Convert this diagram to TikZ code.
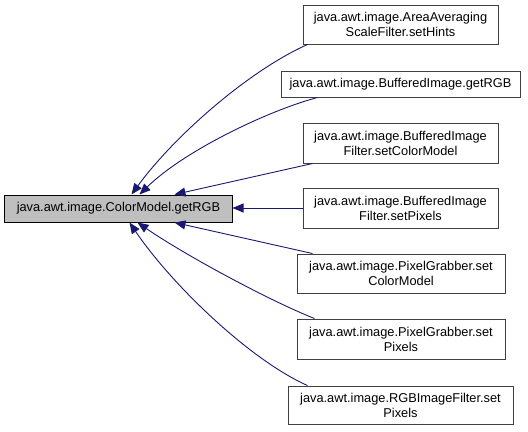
\documentclass[tikz,border=0pt]{standalone}
\usepackage{fontspec}
\setmainfont{Liberation Sans}
\usetikzlibrary{arrows.meta}
\definecolor{edgeblue}{HTML}{191970}
\definecolor{boxgray}{HTML}{BFBFBF}
\definecolor{boxline}{HTML}{404040}
\begin{document}
\begin{tikzpicture}[x=1bp,y=-1bp,
  box/.style={draw=boxline,line width=1bp,fill=white,inner sep=0pt,align=center,
    font=\fontsize{12.8bp}{15bp}\selectfont},
  edge/.style={draw=edgeblue,line width=0.9bp,-{Triangle[length=11bp,width=9bp]}}]
\useasboundingbox (0,0) rectangle (528,431);
\node[box,fill=boxgray,draw=black,minimum width=227bp,minimum height=27bp] (main) at (118.5,208.5) {java.awt.image.ColorModel.getRGB};
\node[box,minimum width=195bp,minimum height=39bp] (n1) at (400.5,24.5) {java.awt.image.AreaAveraging\\ScaleFilter.setHints};
\node[box,minimum width=239bp,minimum height=26bp] (n2) at (400.5,84) {java.awt.image.BufferedImage.getRGB};
\node[box,minimum width=195bp,minimum height=40bp] (n3) at (400.5,143) {java.awt.image.BufferedImage\\Filter.setColorModel};
\node[box,minimum width=195bp,minimum height=40bp] (n4) at (400.5,208) {java.awt.image.BufferedImage\\Filter.setPixels};
\node[box,minimum width=208bp,minimum height=39bp] (n5) at (401,273.5) {java.awt.image.PixelGrabber.set\\ColorModel};
\node[box,minimum width=208bp,minimum height=40bp] (n6) at (401,339) {java.awt.image.PixelGrabber.set\\Pixels};
\node[box,minimum width=225bp,minimum height=38bp] (n7) at (400.5,405) {java.awt.image.RGBImageFilter.set\\Pixels};
\draw[edge] ([xshift=5bp]n1.south west) .. controls (250,70) and (175,135) .. ([xshift=127bp]main.north west);
\draw[edge] ([xshift=37bp]n2.south west) .. controls (270,110) and (185,150) .. ([xshift=135bp]main.north west);
\draw[edge] ([xshift=10bp]n3.south west) -- ([xshift=170bp]main.north west);
\draw[edge] (n4.west) -- (main.east |- n4.west);
\draw[edge] ([xshift=16bp]n5.north west) -- ([xshift=170bp]main.south west);
\draw[edge] ([xshift=18bp]n6.north west) .. controls (268,300) and (185,255) .. ([xshift=133bp]main.south west);
\draw[edge] ([xshift=20bp]n7.north west) .. controls (250,360) and (172,285) .. ([xshift=125bp]main.south west);
\end{tikzpicture}
\end{document}
